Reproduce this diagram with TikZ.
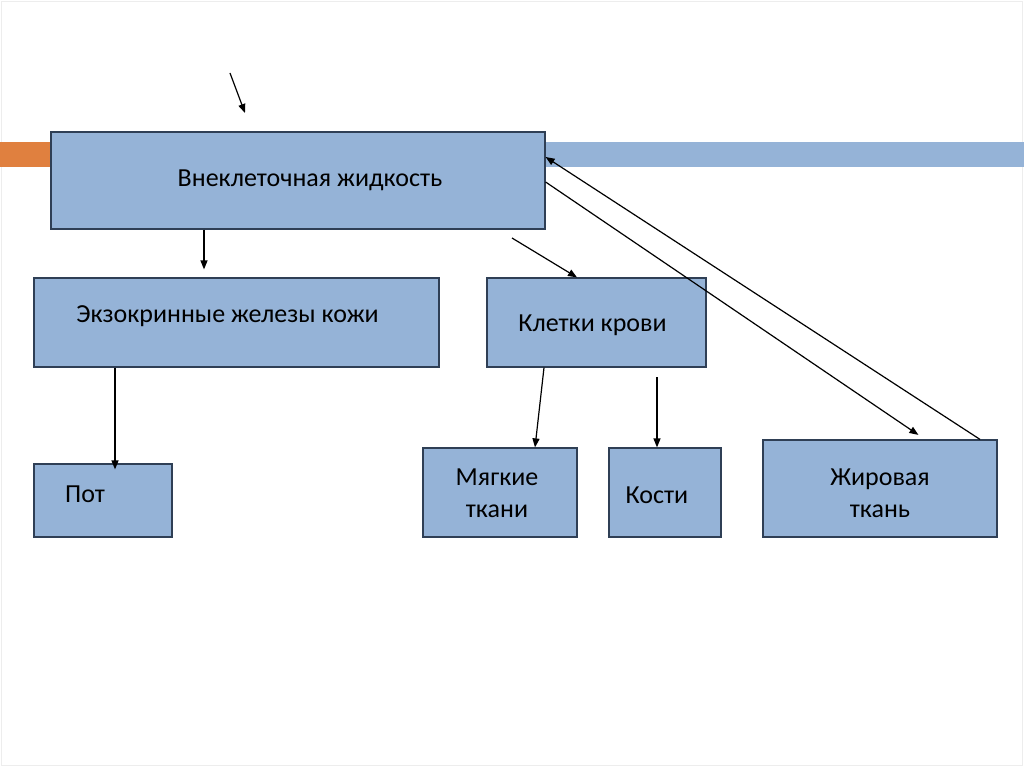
\documentclass[tikz,border=0pt]{standalone}
\usepackage{fontspec}
\setmainfont{Carlito}
\usetikzlibrary{arrows.meta}
\definecolor{boxfill}{HTML}{95B3D7}
\definecolor{boxline}{HTML}{2F3F55}
\definecolor{barorange}{HTML}{E0803F}

\begin{document}
\begin{tikzpicture}[x=1pt,y=-1pt,
  box/.style={draw=boxline, line width=1.2pt, fill=boxfill, inner sep=0pt},
  txt/.style={font=\fontsize{26}{32}\selectfont, align=center},
  arr/.style={-{Triangle[length=9pt,width=7pt]}, line width=1.2pt}]
\useasboundingbox (0,0) rectangle (1024,767);
\draw[black!7] (1,1) rectangle (1022,765);
% bars behind the top box
\fill[barorange] (0,142) rectangle (51,167);
\fill[boxfill] (545,142) rectangle (1024,167);
% boxes
\node[box, minimum width=494pt, minimum height=97pt,
  label={[txt, xshift=12pt, yshift=0pt]center:Внеклеточная жидкость}] (fluid) at (298,180.5) {};
\node[box, minimum width=405pt, minimum height=89pt,
  label={[txt, xshift=-9pt, yshift=6pt]center:Экзокринные железы кожи}] (glands) at (236.5,322.5) {};
\node[box, minimum width=219pt, minimum height=89pt,
  label={[txt, xshift=-4pt, yshift=-3pt]center:Клетки крови}] (blood) at (596.5,322.5) {};
\node[box, minimum width=138pt, minimum height=73pt,
  label={[txt, xshift=-18pt, yshift=6pt]center:Пот}] (sweat) at (103,500.5) {};
\node[box, minimum width=154pt, minimum height=89pt,
  label={[txt, xshift=-3pt, yshift=-1pt]center:Мягкие\\ткани}] (soft) at (500,492.5) {};
\node[box, minimum width=112pt, minimum height=89pt,
  label={[txt, xshift=-8pt, yshift=-3pt]center:Кости}] (bones) at (665,492.5) {};
\node[box, minimum width=234pt, minimum height=97pt,
  label={[txt, yshift=-5pt]center:Жировая\\ткань}] (fat) at (880,488.5) {};
% free ends
\coordinate (topA) at (230,73);
\coordinate (topB) at (245,113);
\coordinate (midA) at (512,238);
\coordinate (bonA) at (657,377);
% connectors
\draw[arr] (topA) -- (topB);
\draw[arr, shorten >=8pt] (204,0 |- fluid.south) -- (204,0 |- glands.north);
\draw[arr] (midA) -- (577,0 |- blood.north);
\draw[arr, shorten >=-6pt] (115,0 |- glands.south) -- (115,0 |- sweat.north);
\draw[arr] (544,0 |- blood.south) -- (535,0 |- soft.north);
\draw[arr] (bonA) -- (657,0 |- bones.north);
\draw[arr, shorten >=8pt] (fluid.east |- 0,182) -- (925,0 |- fat.north);
\draw[arr] (980,0 |- fat.north) -- (fluid.east |- 0,157);
\end{tikzpicture}
\end{document}
